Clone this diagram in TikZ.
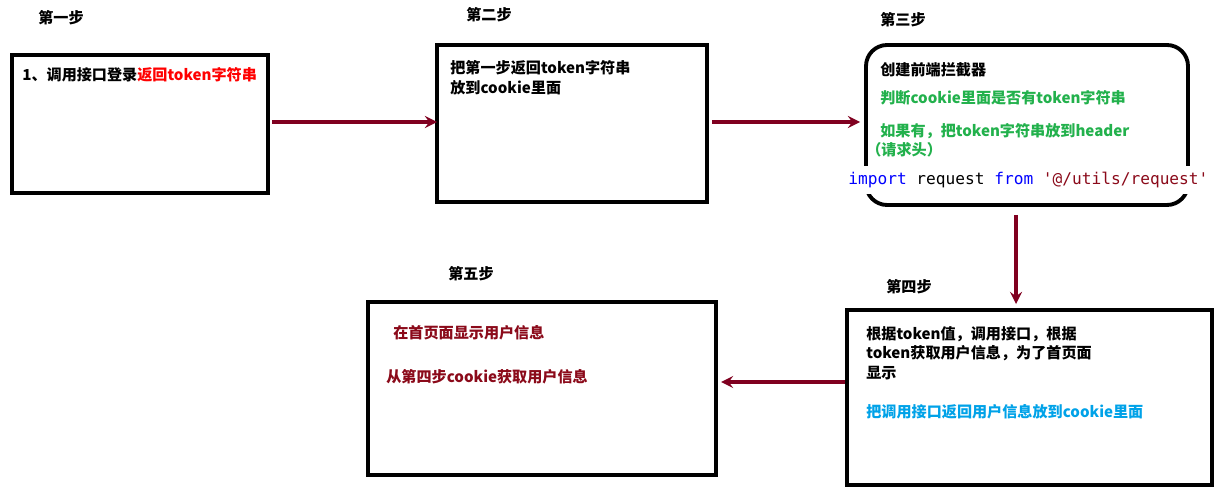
\documentclass[tikz,border=0pt]{standalone}
\usepackage{fontspec}
\setmainfont{Noto Sans CJK SC}
\setmonofont{DejaVu Sans Mono}
\begin{document}
\begin{tikzpicture}[x=0.02cm,y=-0.02cm,
  box/.style={draw,line width=2.2pt},
  txt/.style={anchor=west,inner sep=0pt,font=\fontsize{8.6}{10}\selectfont\bfseries},
  arr/.style={draw=arrred,line width=2pt,-stealth},
]
\definecolor{arrred}{HTML}{800020}
\definecolor{tgreen}{HTML}{22B14C}
\definecolor{tblue}{HTML}{00A2E8}
\definecolor{tdred}{HTML}{8B0A1A}
\useasboundingbox[fill=white] (0,0) rectangle (1227,493);
\path[box] (12,55) rectangle (268,193);
\path[box] (437,45) rectangle (707,202);
\path[box,rounded corners=12pt] (866,45) rectangle (1188,205);
\path[box] (847,310) rectangle (1212,485);
\path[box] (368,302) rectangle (716,475);
\node[txt] (s1) at (38,18) {第一步};
\node[txt] (s2) at (466,15) {第二步};
\node[txt] (s3) at (880,20) {第三步};
\node[txt] (s4) at (886,287) {第四步};
\node[txt] (s5) at (448,274) {第五步};
\node[txt] (t1) at (22,75) {1、调用接口登录\textcolor{red}{返回token字符串}};
\node[txt] (t2a) at (450,68) {把第一步返回token字符串};
\node[txt] (t2b) at (450,88) {放到cookie里面};
\node[txt] (t3a) at (880,70) {创建前端拦截器};
\node[txt,text=tgreen] (t3b) at (880,98) {判断cookie里面是否有token字符串};
\node[txt,text=tgreen] (t3c) at (880,131) {如果有，把token字符串放到header};
\node[txt,text=tgreen] (t3d) at (866,150) {（请求头）};
\fill[white] (846,166) rectangle (1216,194);
\node[anchor=west,inner sep=0pt,font=\ttfamily\fontsize{9.2}{11}\selectfont] (code) at (848,180)
 {\textcolor{blue}{import} request \textcolor{blue}{from} \textcolor{tdred}{'@/utils/request'}};
\node[txt] (t4a) at (866,334) {根据token值，调用接口，根据};
\node[txt] (t4b) at (866,353) {token获取用户信息，为了首页面};
\node[txt] (t4c) at (866,373) {显示};
\node[txt,text=tblue] (t4d) at (866,412) {把调用接口返回用户信息放到cookie里面};
\node[txt,text=tdred] (t5a) at (393,333) {在首页面显示用户信息};
\node[txt,text=tdred] (t5b) at (386,377) {从第四步cookie获取用户信息};
\coordinate (a1) at (272,122); \coordinate (a1e) at (437,122);
\coordinate (a2) at (712,122); \coordinate (a2e) at (860,122);
\coordinate (a3) at (1016,215); \coordinate (a3e) at (1016,304);
\coordinate (a4) at (845,382); \coordinate (a4e) at (721,382);
\draw[arr] (a1) -- (a1e);
\draw[arr] (a2) -- (a2e);
\draw[arr] (a3) -- (a3e);
\draw[arr] (a4) -- (a4e);
\end{tikzpicture}
\end{document}
